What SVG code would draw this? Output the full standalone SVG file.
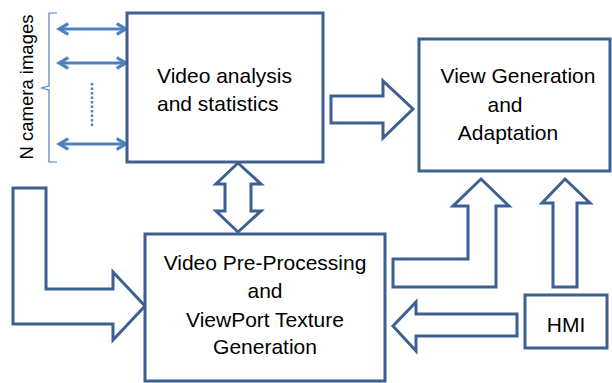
<svg xmlns="http://www.w3.org/2000/svg" width="612" height="383" viewBox="0 0 612 383">
  <style>
    .box { fill: #ffffff; stroke: #3b6091; stroke-width: 3; }
    .blk { fill: #ffffff; stroke: #3b6091; stroke-width: 3; stroke-linejoin: miter; }
    .lbl { font-family: "Liberation Sans", Arial, sans-serif; font-size: 21px; fill: #000000; }
    .thin { fill: none; stroke: #4f81bd; stroke-width: 3; }
  </style>
  <defs>
    <marker id="ah" viewBox="0 0 10 10" refX="8" refY="5" markerWidth="4.4" markerHeight="4.4" orient="auto-start-reverse">
      <path d="M1,1 L8,5 L1,9" fill="none" stroke="#4f81bd" stroke-width="2.4"/>
    </marker>
  </defs>
  <rect width="612" height="383" fill="#ffffff"/>

  <!-- camera inputs -->
  <g id="cameras">
    <path d="M57,13 L49,13 L49,86 L41,88 L49,90 L49,162 L57,162" fill="none" stroke="#4f81bd" stroke-width="1.2"/>
    <text class="lbl" transform="translate(33,87) rotate(-90)" text-anchor="middle" style="font-size:18.5px">N camera images</text>
  </g>

  <g id="connectors">
    <line class="thin" x1="59" y1="29" x2="126" y2="29" marker-start="url(#ah)" marker-end="url(#ah)"/>
    <line class="thin" x1="59" y1="63" x2="126" y2="63" marker-start="url(#ah)" marker-end="url(#ah)"/>
    <line class="thin" x1="59" y1="144" x2="126" y2="144" marker-start="url(#ah)" marker-end="url(#ah)"/>
    <line x1="92" y1="83" x2="92" y2="126" stroke="#4f81bd" stroke-width="2.5" stroke-dasharray="2.5 2"/>
    <!-- analysis to view generation -->
    <path class="blk" d="M331,96 L383,96 L383,81 L413,109 L383,138 L383,123 L331,123 Z"/>
    <!-- analysis <-> pre-processing -->
    <path class="blk" d="M238,163 L261,184 L251,184 L251,211 L261,211 L238,232 L216,211 L225,211 L225,184 L216,184 Z"/>
    <!-- external input into pre-processing -->
    <path class="blk" d="M13,188 L46,188 L46,289 L113,289 L113,272 L145,306 L113,340 L113,324 L13,324 Z"/>
    <!-- pre-processing to view generation -->
    <path class="blk" d="M393,259 L468,259 L468,206 L453,206 L481,179 L509,206 L496,206 L496,287 L393,287 Z"/>
    <!-- HMI to view generation -->
    <path class="blk" d="M553,287 L553,203 L542,203 L565,179 L590,203 L577,203 L577,287 Z"/>
    <!-- HMI to pre-processing -->
    <path class="blk" d="M517,314 L416,314 L416,302 L393,326 L416,351 L416,336 L517,336 Z"/>
  </g>

  <g id="analysis">
    <rect class="box" x="127" y="13" width="196" height="149"/>
    <text class="lbl" x="157" y="83">Video analysis</text>
    <text class="lbl" x="157" y="111">and statistics</text>
  </g>

  <g id="viewgen">
    <rect class="box" x="419" y="39" width="191" height="132"/>
    <text class="lbl" x="518" y="83" text-anchor="middle">View Generation</text>
    <text class="lbl" x="505" y="112" text-anchor="middle">and</text>
    <text class="lbl" x="508" y="140" text-anchor="middle">Adaptation</text>
  </g>

  <g id="preproc">
    <rect class="box" x="145" y="234" width="240" height="147"/>
    <text class="lbl" x="265" y="270" text-anchor="middle">Video Pre-Processing</text>
    <text class="lbl" x="265" y="298" text-anchor="middle">and</text>
    <text class="lbl" x="265" y="327" text-anchor="middle">ViewPort Texture</text>
    <text class="lbl" x="265" y="354" text-anchor="middle">Generation</text>
  </g>

  <g id="hmi">
    <rect class="box" x="525" y="295" width="82" height="53"/>
    <text class="lbl" x="566" y="332" text-anchor="middle">HMI</text>
  </g>
</svg>
